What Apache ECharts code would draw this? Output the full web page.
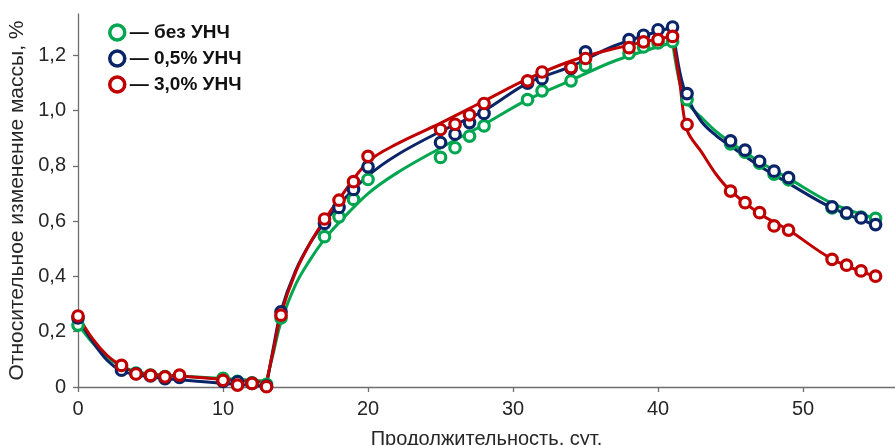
<!DOCTYPE html>
<html>
<head>
<meta charset="utf-8">
<style>
  html, body { margin: 0; padding: 0; background: #fff; }
  #chart { width: 895px; height: 445px; }
</style>
<script src="https://cdn.jsdelivr.net/npm/echarts@6/dist/echarts.min.js"></script>
</head>
<body>
<div id="chart"></div>
<script>
// Measurement days (сут.)
const days = [0, 3, 4, 5, 6, 7, 10, 11, 12, 13, 14, 17, 18, 19, 20, 25, 26, 27, 28, 31, 32, 34, 35, 38, 39, 40, 41, 42, 45, 46, 47, 48, 49, 52, 53, 54, 55];

// Measured relative mass change, %
const noAdditive = [0.224, 0.07, 0.05, 0.043, 0.038, 0.04, 0.031, 0.02, 0.015, 0.01, 0.25, 0.544, 0.616, 0.679, 0.751, 0.831, 0.866, 0.908, 0.945, 1.04, 1.072, 1.108, 1.162, 1.207, 1.231, 1.245, 1.25, 1.04, 0.88, 0.85, 0.81, 0.77, 0.75, 0.648, 0.628, 0.615, 0.61];
const additive05 = [0.25, 0.061, 0.048, 0.04, 0.03, 0.035, 0.02, 0.019, 0.013, 0.003, 0.272, 0.592, 0.65, 0.715, 0.797, 0.885, 0.915, 0.957, 0.99, 1.1, 1.116, 1.153, 1.213, 1.257, 1.273, 1.293, 1.303, 1.062, 0.891, 0.857, 0.817, 0.781, 0.758, 0.652, 0.63, 0.612, 0.588];
const additive30 = [0.257, 0.078, 0.047, 0.042, 0.037, 0.043, 0.024, 0.007, 0.013, 0.001, 0.26, 0.608, 0.676, 0.743, 0.835, 0.932, 0.951, 0.985, 1.026, 1.108, 1.14, 1.156, 1.189, 1.228, 1.249, 1.257, 1.269, 0.95, 0.709, 0.667, 0.631, 0.583, 0.568, 0.462, 0.441, 0.42, 0.401];

// Trend curves: drying stage, wetting stage, second drying stage
const curveDaysA = [0, 1, 2, 3, 4, 5, 7, 10, 13];
const curveDaysB = [13, 13.5, 14, 15, 16, 17, 18, 20, 22, 25, 28, 31, 34, 37, 41];
const curveDaysC = [41, 41.5, 42, 43, 44, 45, 47, 49, 52, 55];

const trendNoA = [0.228, 0.16, 0.107, 0.075, 0.056, 0.047, 0.04, 0.031, 0.021];
const trendNoB = [0.021, 0.13, 0.235, 0.37, 0.46, 0.535, 0.595, 0.70, 0.775, 0.865, 0.95, 1.04, 1.11, 1.18, 1.247];
const trendNoC = [1.247, 1.10, 1.03, 0.975, 0.925, 0.885, 0.815, 0.755, 0.665, 0.61];

const trend05A = [0.25, 0.165, 0.097, 0.058, 0.045, 0.036, 0.026, 0.013, 0.004];
const trend05B = [0.004, 0.15, 0.275, 0.42, 0.52, 0.595, 0.66, 0.765, 0.84, 0.925, 1.0, 1.10, 1.16, 1.235, 1.302];
const trend05C = [1.302, 1.14, 1.05, 0.96, 0.91, 0.872, 0.80, 0.737, 0.648, 0.586];

const trend30A = [0.257, 0.175, 0.115, 0.077, 0.052, 0.045, 0.04, 0.027, 0.017];
const trend30B = [0.017, 0.14, 0.265, 0.415, 0.52, 0.605, 0.68, 0.815, 0.88, 0.955, 1.035, 1.115, 1.18, 1.225, 1.27];
const trend30C = [1.27, 1.10, 0.93, 0.85, 0.77, 0.71, 0.627, 0.568, 0.463, 0.40];

const xTicks = [0, 10, 20, 30, 40, 50];
const yTicks = [0, 0.2, 0.4, 0.6, 0.8, 1.0, 1.2];

const groups = [
  { name: '— без УНЧ', color: '#00A650', values: noAdditive, curves: [trendNoA, trendNoB, trendNoC] },
  { name: '— 0,5% УНЧ', color: '#0A2468', values: additive05, curves: [trend05A, trend05B, trend05C] },
  { name: '— 3,0% УНЧ', color: '#C00000', values: additive30, curves: [trend30A, trend30B, trend30C] }
];

const curveDays = [curveDaysA, curveDaysB, curveDaysC];
const font = '"Liberation Sans", Arial, sans-serif';
const textColor = '#262626';

const series = [];
groups.forEach(function (g, gi) {
  g.curves.forEach(function (c, ci) {
    series.push({
      type: 'line',
      name: 'trend-' + gi + '-' + ci,
      data: curveDays[ci].map(function (d, i) { return [d, c[i]]; }),
      showSymbol: false,
      smooth: 0.35,
      silent: true,
      lineStyle: { color: g.color, width: 3 },
      z: 2 + gi
    });
  });
});
groups.forEach(function (g, gi) {
  series.push({
    type: 'scatter',
    name: g.name,
    data: days.map(function (d, i) { return [d, g.values[i]]; }),
    symbol: 'circle',
    symbolSize: 10.5,
    itemStyle: { color: '#ffffff', borderColor: g.color, borderWidth: 3.2, opacity: 1 },
    z: 10 + gi
  });
});

const chart = echarts.init(document.getElementById('chart'), null, { renderer: 'canvas' });
chart.setOption({
  animation: false,
  backgroundColor: '#ffffff',
  textStyle: { fontFamily: font },
  grid: { left: 78, right: 0, top: 14, bottom: 58, containLabel: false, outerBoundsMode: 'none' },
  legend: {
    orient: 'vertical',
    left: 103,
    top: 18,
    itemWidth: 15,
    itemHeight: 15,
    itemGap: 7,
    itemTextGap: 6,
    selectedMode: false,
    textStyle: { fontFamily: font, fontSize: 19, fontWeight: 'bold', color: '#111', lineHeight: 19 },
    data: groups.map(function (g) {
      return { name: g.name, icon: 'circle', itemStyle: { color: '#ffffff', borderColor: g.color, borderWidth: 3.5 } };
    })
  },
  xAxis: {
    type: 'value',
    min: 0,
    max: 56.34,
    name: 'Продолжительность, сут.',
    nameLocation: 'middle',
    nameGap: 42,
    nameTextStyle: { fontFamily: font, fontSize: 20, color: textColor },
    splitLine: { show: false },
    axisLine: { show: true, onZero: false, lineStyle: { color: '#6e6e6e', width: 1.3 } },
    axisTick: { show: true, length: 5, inside: false, customValues: xTicks, lineStyle: { color: '#6e6e6e', width: 1.3 } },
    axisLabel: { customValues: xTicks, margin: 12, fontFamily: font, fontSize: 20, color: textColor }
  },
  yAxis: {
    type: 'value',
    min: 0,
    max: 1.35,
    name: 'Относительное изменение массы, %',
    nameLocation: 'middle',
    nameRotate: 90,
    nameGap: 44,
    nameTextStyle: { fontFamily: font, fontSize: 21, color: textColor },
    splitLine: { show: false },
    axisLine: { show: true, lineStyle: { color: '#6e6e6e', width: 1.3 } },
    axisTick: { show: true, length: 5, customValues: yTicks, lineStyle: { color: '#6e6e6e', width: 1.3 } },
    axisLabel: {
      customValues: yTicks,
      margin: 12,
      fontFamily: font,
      fontSize: 20,
      color: textColor,
      formatter: function (v) { return v === 0 ? '0' : v.toFixed(1).replace('.', ','); }
    }
  },
  series: series
});
</script>
</body>
</html>
